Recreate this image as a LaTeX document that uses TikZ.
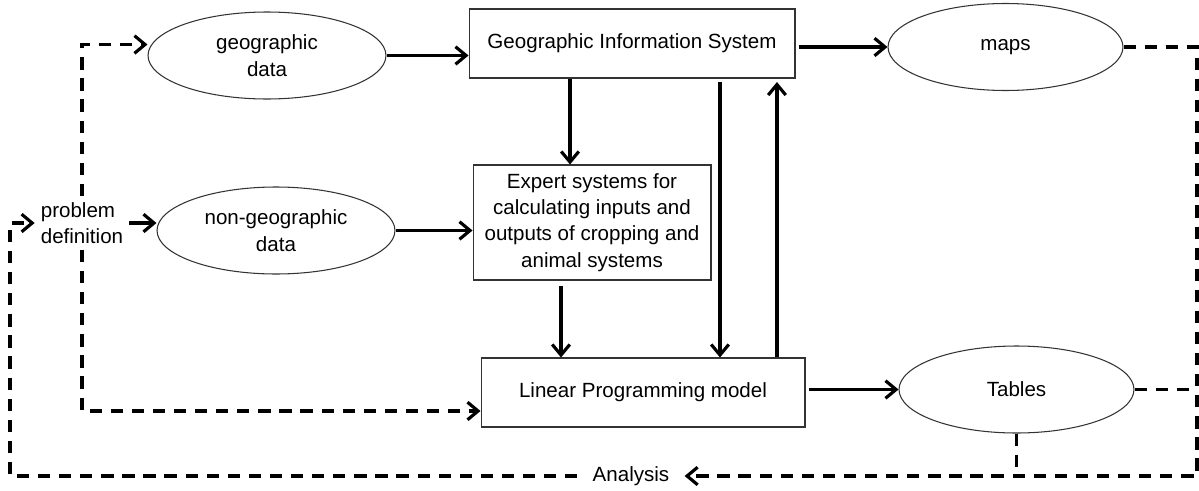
\documentclass[tikz,border=0pt]{standalone}
\usepackage{fontspec}
\setmainfont{Liberation Sans}
\usepackage{tikz}
\usetikzlibrary{shapes.geometric, arrows.meta, positioning}

\begin{document}
\begin{tikzpicture}[
    x=0.02cm, y=-0.02cm,
    font=\fontsize{11.7}{15}\selectfont,
    oval/.style={draw=black!80, ellipse, line width=0.6pt, minimum width=4.76cm,
                 minimum height=1.74cm, align=center, inner sep=0pt},
    blk/.style={draw=black!80, rectangle, line width=0.6pt, align=center,
                minimum height=1.38cm},
    arr/.style={-{Straight Barb[length=6pt,width=10pt]}, line width=1.8pt},
    darr/.style={arr, dash pattern=on 7pt off 5pt},
    dline/.style={line width=1.8pt, dash pattern=on 7pt off 5pt},
]
\useasboundingbox (0,0) rectangle (1199,490);

\node[oval] (geo) at (267,55.5) {geographic\\data};
\node[blk, minimum width=6.52cm] (gis) at (632,43.5) {Geographic Information System};
\node[oval, minimum width=4.7cm] (maps) at (1005.5,47) {maps};
\node[oval] (nongeo) at (276,230.5) {non-geographic\\data};
\node[blk, minimum width=4.76cm, minimum height=2.3cm] (expert) at (592,222.5)
    {Expert systems for\\calculating inputs and\\outputs of cropping and\\animal systems};
\node[blk, minimum width=6.48cm] (lp) at (643,392.5) {Linear Programming model};
\node[oval, minimum width=4.7cm] (tables) at (1016.5,389.5) {Tables};
\node[align=left] (prob) at (82,223) {problem\\definition};
\node[inner xsep=0.3cm] (ana) at (631,476) {Analysis};
\coordinate (se) at (1197,476);
\coordinate (sw) at (10,476);

% solid flows
\draw[arr] (geo.east) -- (geo.east -| gis.west);
\draw[arr] ([xshift=2pt]gis.east |- maps.west) -- (maps.west);
\draw[arr] (nongeo.east) -- (nongeo.east -| expert.west);
\draw[arr] ([xshift=-1.24cm]gis.south) -- ([xshift=-1.24cm]gis.south |- expert.north);
\draw[arr] ([xshift=1.76cm,yshift=-2pt]gis.south) -- ([xshift=1.76cm]gis.south |- lp.north);
\draw[arr] ([xshift=2.68cm]lp.north) -- ([xshift=2.68cm,yshift=-2pt]lp.north |- gis.south);
\draw[arr] ([xshift=-0.62cm,yshift=-3pt]expert.south) -- ([xshift=-0.62cm]expert.south |- lp.north);
\draw[arr] ([xshift=2pt]lp.east |- tables.west) -- (tables.west);
\draw[arr] (prob.east) -- (prob.east -| nongeo.west);

% dashed feedback
\draw[darr] (prob.north) |- ([yshift=0.22cm]geo.west);
\draw[darr] (prob.south) |- ([yshift=-0.37cm]lp.west);
\draw[darr] (maps.east) -| (se) -- (ana.east);
\draw[dline] (tables.east) -- (tables.east -| se);
\draw[dline] (tables.south) -- (tables.south |- se);
\draw[darr] (ana.west) -- (sw) |- (prob.west);
\end{tikzpicture}
\end{document}
